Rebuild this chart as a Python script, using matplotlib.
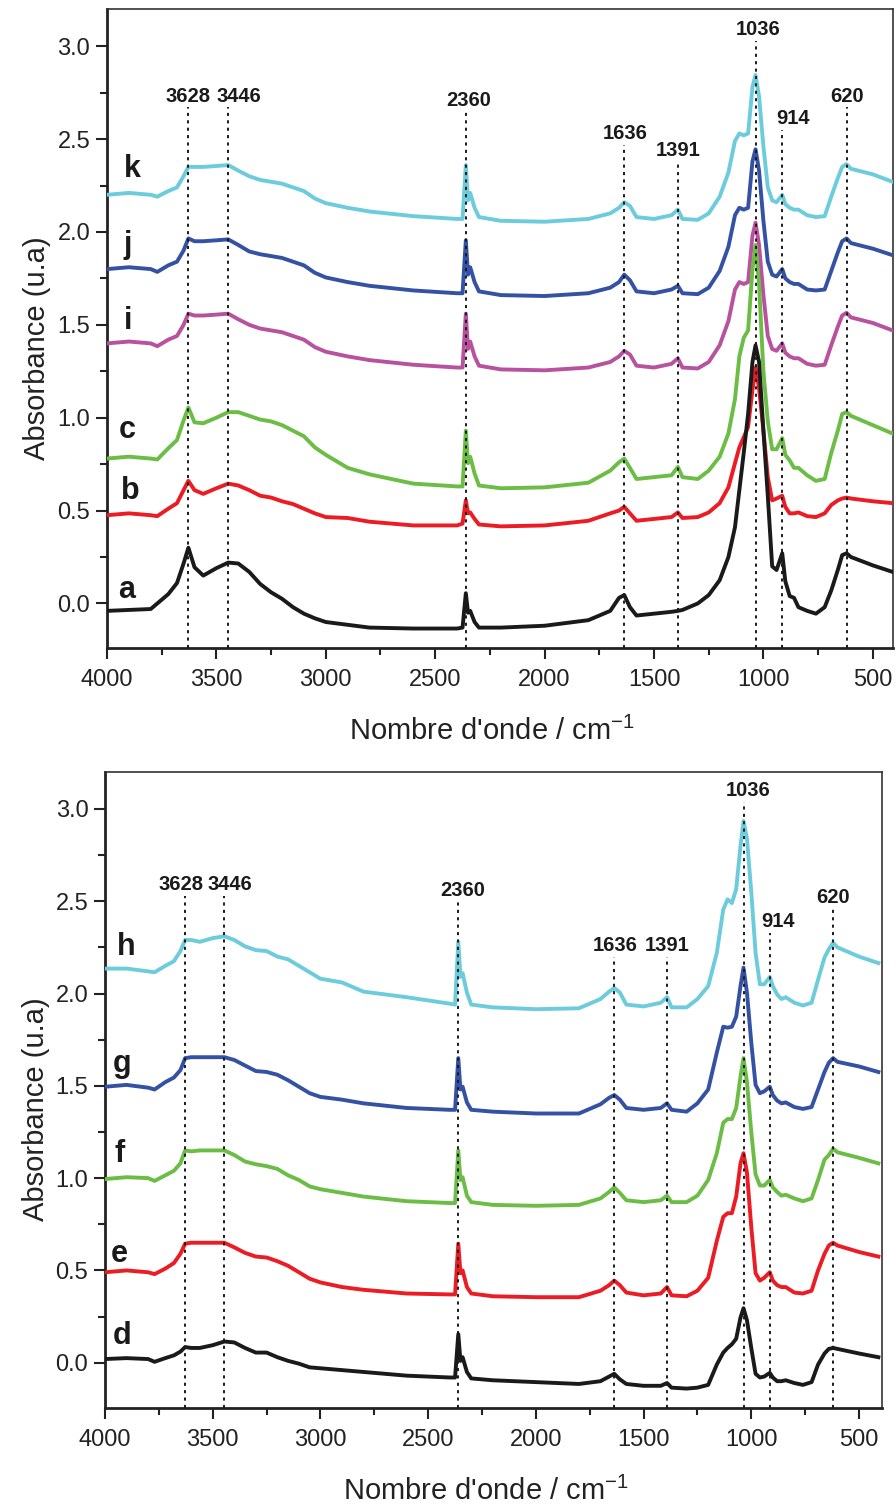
import matplotlib
matplotlib.use("Agg")
import matplotlib.pyplot as plt
from matplotlib.ticker import MultipleLocator, FormatStrFormatter
from matplotlib import font_manager

# wavenumber grid (cm-1) shared by every spectrum
wavenumber = [4000, 3900, 3800, 3770, 3720, 3680, 3650, 3628, 3600, 3560,
              3500, 3446, 3400, 3350, 3300, 3250, 3200, 3150, 3100, 3050,
              3000, 2900, 2800, 2600, 2400, 2375, 2360, 2350, 2340, 2320,
              2300, 2200, 2000, 1800, 1700, 1660, 1636, 1610, 1580, 1500,
              1420, 1391, 1370, 1300, 1250, 1200, 1160, 1130, 1110, 1090,
              1070, 1050, 1036, 1020, 1000, 980, 960, 940, 914, 900,
              880, 860, 840, 800, 760, 720, 690, 660, 640, 620,
              600, 500, 410]

# upper figure
spec_a = [-0.04, -0.035, -0.03, 0.0, 0.05, 0.11, 0.215, 0.30, 0.195, 0.15,
          0.19, 0.22, 0.215, 0.17, 0.105, 0.06, 0.025, -0.02, -0.055, -0.08,
          -0.10, -0.115, -0.13, -0.135, -0.135, -0.13, 0.055, -0.05, -0.04, -0.10,
          -0.13, -0.13, -0.12, -0.09, -0.04, 0.03, 0.045, -0.02, -0.065, -0.055,
          -0.045, -0.04, -0.035, 0.0, 0.045, 0.125, 0.25, 0.41, 0.61, 0.81,
          1.02, 1.30, 1.39, 1.30, 0.93, 0.58, 0.20, 0.18, 0.27, 0.12,
          0.04, 0.03, -0.02, -0.04, -0.055, -0.02, 0.07, 0.18, 0.26, 0.27,
          0.25, 0.205, 0.17]
spec_b = [0.475, 0.485, 0.475, 0.47, 0.51, 0.54, 0.61, 0.66, 0.61, 0.59,
          0.62, 0.645, 0.635, 0.61, 0.58, 0.57, 0.55, 0.535, 0.51, 0.485,
          0.465, 0.46, 0.44, 0.42, 0.42, 0.43, 0.555, 0.485, 0.49, 0.455,
          0.425, 0.415, 0.42, 0.445, 0.485, 0.50, 0.52, 0.485, 0.445, 0.455,
          0.465, 0.49, 0.46, 0.465, 0.49, 0.54, 0.625, 0.755, 0.84, 0.895,
          0.95, 1.15, 1.27, 1.16, 0.93, 0.68, 0.555, 0.565, 0.58, 0.52,
          0.485, 0.485, 0.49, 0.47, 0.465, 0.485, 0.53, 0.555, 0.565, 0.57,
          0.565, 0.55, 0.54]
spec_c = [0.78, 0.79, 0.78, 0.775, 0.835, 0.88, 0.985, 1.055, 0.975, 0.97,
          1.0, 1.03, 1.03, 1.01, 0.99, 0.98, 0.96, 0.93, 0.90, 0.84,
          0.80, 0.73, 0.695, 0.645, 0.63, 0.63, 0.93, 0.755, 0.79, 0.70,
          0.635, 0.62, 0.625, 0.65, 0.715, 0.76, 0.78, 0.73, 0.67, 0.68,
          0.69, 0.735, 0.68, 0.67, 0.715, 0.79, 0.915, 1.10, 1.33, 1.43,
          1.47, 1.80, 1.93, 1.72, 1.25, 0.98, 0.83, 0.83, 0.89, 0.80,
          0.77, 0.73, 0.73, 0.69, 0.66, 0.67, 0.81, 0.93, 1.02, 1.03,
          1.01, 0.96, 0.915]
spec_i = [1.40, 1.41, 1.40, 1.385, 1.42, 1.44, 1.50, 1.56, 1.55, 1.55,
          1.555, 1.56, 1.53, 1.50, 1.48, 1.47, 1.46, 1.44, 1.42, 1.38,
          1.355, 1.33, 1.31, 1.285, 1.27, 1.27, 1.56, 1.37, 1.41, 1.33,
          1.28, 1.26, 1.255, 1.27, 1.30, 1.33, 1.36, 1.34, 1.28, 1.27,
          1.29, 1.32, 1.27, 1.265, 1.30, 1.39, 1.52, 1.69, 1.73, 1.72,
          1.73, 1.98, 2.05, 1.93, 1.66, 1.44, 1.37, 1.36, 1.40, 1.35,
          1.33, 1.32, 1.32, 1.29, 1.28, 1.285, 1.39, 1.49, 1.55, 1.565,
          1.54, 1.51, 1.47]
spec_j = [1.80, 1.81, 1.80, 1.785, 1.82, 1.84, 1.90, 1.965, 1.95, 1.95,
          1.955, 1.96, 1.93, 1.895, 1.88, 1.87, 1.86, 1.84, 1.82, 1.78,
          1.755, 1.73, 1.71, 1.685, 1.67, 1.67, 1.955, 1.77, 1.81, 1.73,
          1.68, 1.66, 1.655, 1.67, 1.70, 1.73, 1.77, 1.74, 1.68, 1.67,
          1.69, 1.71, 1.67, 1.665, 1.70, 1.79, 1.92, 2.09, 2.13, 2.12,
          2.13, 2.38, 2.445, 2.33, 2.06, 1.84, 1.77, 1.76, 1.80, 1.75,
          1.73, 1.72, 1.72, 1.69, 1.685, 1.69, 1.79, 1.89, 1.95, 1.965,
          1.94, 1.91, 1.875]
spec_k = [2.20, 2.21, 2.20, 2.19, 2.22, 2.24, 2.30, 2.35, 2.35, 2.35,
          2.355, 2.36, 2.33, 2.30, 2.28, 2.27, 2.26, 2.24, 2.22, 2.18,
          2.155, 2.13, 2.11, 2.085, 2.07, 2.07, 2.36, 2.17, 2.21, 2.13,
          2.08, 2.06, 2.055, 2.07, 2.10, 2.13, 2.16, 2.14, 2.08, 2.07,
          2.09, 2.12, 2.07, 2.065, 2.10, 2.19, 2.32, 2.49, 2.53, 2.52,
          2.53, 2.78, 2.845, 2.73, 2.46, 2.24, 2.17, 2.16, 2.20, 2.15,
          2.13, 2.12, 2.12, 2.09, 2.08, 2.085, 2.19, 2.29, 2.35, 2.365,
          2.34, 2.31, 2.27]

# lower figure
spec_d = [0.02, 0.025, 0.02, 0.005, 0.025, 0.04, 0.06, 0.085, 0.08, 0.08,
          0.095, 0.115, 0.11, 0.08, 0.055, 0.055, 0.03, 0.01, -0.005, -0.025,
          -0.03, -0.04, -0.05, -0.07, -0.08, -0.08, 0.155, 0.01, 0.03, -0.05,
          -0.085, -0.095, -0.105, -0.115, -0.10, -0.075, -0.06, -0.09, -0.115, -0.125,
          -0.125, -0.11, -0.135, -0.14, -0.135, -0.12, -0.01, 0.055, 0.08, 0.10,
          0.13, 0.245, 0.295, 0.23, 0.08, -0.06, -0.08, -0.075, -0.055, -0.08,
          -0.10, -0.10, -0.095, -0.11, -0.12, -0.105, -0.01, 0.05, 0.075, 0.08,
          0.075, 0.05, 0.03]
spec_e = [0.49, 0.50, 0.49, 0.48, 0.51, 0.54, 0.59, 0.645, 0.65, 0.65,
          0.65, 0.65, 0.625, 0.595, 0.575, 0.57, 0.55, 0.525, 0.49, 0.455,
          0.435, 0.41, 0.395, 0.375, 0.37, 0.37, 0.645, 0.485, 0.50, 0.41,
          0.375, 0.36, 0.355, 0.355, 0.39, 0.42, 0.445, 0.42, 0.38, 0.365,
          0.375, 0.41, 0.365, 0.36, 0.39, 0.46, 0.66, 0.79, 0.81, 0.81,
          0.90, 1.08, 1.135, 1.03, 0.735, 0.485, 0.445, 0.46, 0.49, 0.445,
          0.42, 0.41, 0.41, 0.38, 0.375, 0.39, 0.50, 0.59, 0.635, 0.65,
          0.635, 0.60, 0.575]
spec_f = [0.995, 1.005, 1.0, 0.985, 1.015, 1.04, 1.08, 1.15, 1.145, 1.15,
          1.15, 1.15, 1.125, 1.09, 1.075, 1.065, 1.05, 1.015, 0.99, 0.955,
          0.94, 0.92, 0.90, 0.875, 0.865, 0.865, 1.15, 0.99, 1.005, 0.905,
          0.87, 0.855, 0.85, 0.855, 0.89, 0.925, 0.95, 0.92, 0.88, 0.87,
          0.88, 0.905, 0.87, 0.87, 0.905, 0.99, 1.135, 1.30, 1.32, 1.32,
          1.38, 1.55, 1.65, 1.52, 1.25, 1.02, 0.96, 0.96, 0.99, 0.95,
          0.925, 0.905, 0.91, 0.89, 0.875, 0.89, 0.99, 1.10, 1.125, 1.16,
          1.14, 1.11, 1.08]
spec_g = [1.495, 1.505, 1.49, 1.48, 1.52, 1.545, 1.585, 1.65, 1.655, 1.655,
          1.655, 1.655, 1.64, 1.61, 1.58, 1.575, 1.56, 1.53, 1.495, 1.46,
          1.44, 1.425, 1.405, 1.38, 1.37, 1.37, 1.65, 1.48, 1.495, 1.41,
          1.37, 1.36, 1.35, 1.35, 1.40, 1.435, 1.45, 1.425, 1.38, 1.37,
          1.38, 1.405, 1.37, 1.36, 1.405, 1.48, 1.68, 1.82, 1.815, 1.82,
          1.875, 2.04, 2.14, 2.005, 1.735, 1.505, 1.46, 1.47, 1.495, 1.45,
          1.42, 1.405, 1.41, 1.385, 1.375, 1.385, 1.48, 1.575, 1.625, 1.65,
          1.63, 1.605, 1.575]
spec_h = [2.135, 2.135, 2.12, 2.115, 2.15, 2.175, 2.23, 2.29, 2.29, 2.28,
          2.30, 2.31, 2.29, 2.255, 2.235, 2.23, 2.20, 2.185, 2.15, 2.115,
          2.08, 2.06, 2.01, 1.98, 1.945, 1.94, 2.28, 2.09, 2.11, 2.005,
          1.94, 1.925, 1.915, 1.92, 1.97, 2.01, 2.03, 2.005, 1.94, 1.93,
          1.95, 1.98, 1.925, 1.925, 1.97, 2.04, 2.22, 2.455, 2.51, 2.49,
          2.565, 2.80, 2.935, 2.84, 2.55, 2.22, 2.05, 2.05, 2.09, 2.04,
          1.995, 1.97, 1.98, 1.95, 1.935, 1.95, 2.075, 2.195, 2.24, 2.275,
          2.25, 2.20, 2.165]

# assigned band positions
bands = [3628, 3446, 2360, 1636, 1391, 1036, 914, 620]

BLACK = "#1a1a1a"
RED = "#ec1c24"
GREEN = "#6cbd45"
MAGENTA = "#b8529e"
BLUE = "#3451a3"
CYAN = "#6dccdc"

available = {f.name for f in font_manager.fontManager.ttflist}
SANS = "Liberation Sans"
NARROW = "Liberation Sans Narrow" if "Liberation Sans Narrow" in available else None

plt.rcParams["font.family"] = [SANS, "DejaVu Sans"]
plt.rcParams["mathtext.fontset"] = "custom"
plt.rcParams["mathtext.rm"] = SANS
plt.rcParams["mathtext.default"] = "regular"

fig = plt.figure(figsize=(8.96, 15.06), dpi=100)
ax_top = fig.add_axes([0.1194, 0.5697, 0.8772, 0.4243])
ax_bot = fig.add_axes([0.1172, 0.0651, 0.8672, 0.4223])


def style_axes(ax, xright, ybottom):
    ax.set_xlim(4000, xright)
    ax.set_ylim(ybottom, 3.2)
    ax.xaxis.set_major_locator(MultipleLocator(500))
    ax.xaxis.set_minor_locator(MultipleLocator(250))
    ax.yaxis.set_major_locator(MultipleLocator(0.5))
    ax.yaxis.set_minor_locator(MultipleLocator(0.25))
    ax.yaxis.set_major_formatter(FormatStrFormatter("%.1f"))
    ax.tick_params(which="major", direction="out", length=8, width=1.5,
                   labelsize=17, pad=4, colors="#222222")
    ax.tick_params(axis="x", which="major", pad=7)
    ax.tick_params(which="minor", direction="out", length=5, width=1.5,
                   colors="#222222")
    for side in ("left", "bottom"):
        ax.spines[side].set_linewidth(2.0)
        ax.spines[side].set_color("#222222")
    for side in ("top", "right"):
        ax.spines[side].set_linewidth(1.2)
        ax.spines[side].set_color("#333333")
    ax.set_ylabel("Absorbance (u.a)", fontsize=21, color="#222222")
    ax.set_xlabel("Nombre d'onde / cm$^{-1}$", fontsize=21, color="#222222")
    ax.yaxis.set_label_coords(-0.071, 0.47)
    ax.xaxis.set_label_coords(0.49, -0.108)
    ax.xaxis.label.set_va("top")


def draw_bands(ax, tops, offsets):
    for wn, top, dx in zip(bands, tops, offsets):
        ax.plot([wn, wn], [ax.get_ylim()[0], top], color=BLACK, lw=1.4,
                linestyle=(0, (1.6, 2.2)), zorder=5)
        if NARROW:
            ax.annotate(str(wn), xy=(wn, top), xytext=(dx, 1),
                        textcoords="offset points", ha="center", va="bottom",
                        fontsize=17, fontweight="bold", family=NARROW,
                        color=BLACK)
        else:
            ax.annotate(str(wn), xy=(wn, top), xytext=(dx, 1),
                        textcoords="offset points", ha="center", va="bottom",
                        fontsize=14.5, fontweight="bold", color=BLACK)


def draw_curves(ax, curves):
    for values, color, letter, lx, ly in curves:
        ax.plot(wavenumber, values, color=color, lw=2.8,
                solid_joinstyle="round", zorder=3)
        ax.text(lx, ly, letter, fontsize=22, fontweight="bold", color=BLACK,
                ha="left", va="baseline", zorder=6)


# upper panel
style_axes(ax_top, 408, -0.24)
draw_curves(ax_top, [
    (spec_k, CYAN, "k", 3925, 2.295),
    (spec_j, BLUE, "j", 3925, 1.885),
    (spec_i, MAGENTA, "i", 3925, 1.48),
    (spec_c, GREEN, "c", 3945, 0.89),
    (spec_b, RED, "b", 3935, 0.56),
    (spec_a, BLACK, "a", 3950, 0.03),
])
draw_bands(ax_top, [2.67, 2.67, 2.65, 2.47, 2.38, 3.03, 2.55, 2.67],
           [0, 8, 2, 1, 0, 2, 8, 0])

# lower panel
style_axes(ax_bot, 393, -0.245)
draw_curves(ax_bot, [
    (spec_h, CYAN, "h", 3944, 2.21),
    (spec_g, BLUE, "g", 3963, 1.575),
    (spec_f, GREEN, "f", 3954, 1.087),
    (spec_e, RED, "e", 3972, 0.543),
    (spec_d, BLACK, "d", 3963, 0.103),
])
draw_bands(ax_bot, [2.53, 2.53, 2.50, 2.20, 2.20, 3.04, 2.33, 2.46],
           [-3, 4, 3, 1, 0, 3, 6, 0])

fig.savefig("out.png", dpi=100)
